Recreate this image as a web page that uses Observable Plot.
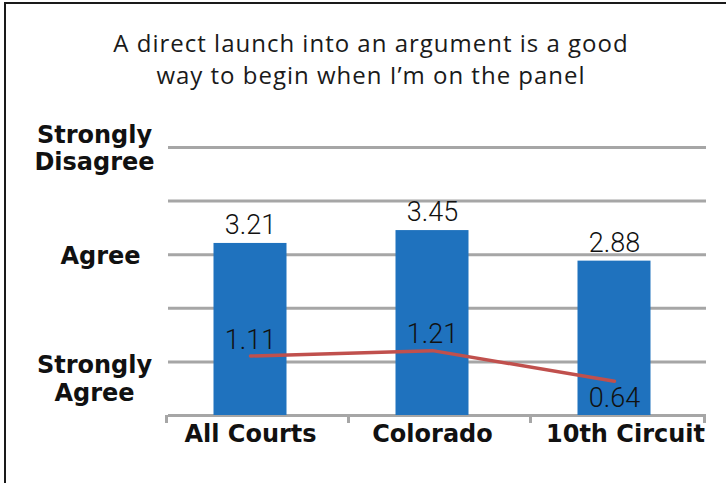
<!DOCTYPE html>
<html>
<head>
<meta charset="utf-8">
<script src="https://cdn.jsdelivr.net/npm/d3@7"></script>
<script src="https://cdn.jsdelivr.net/npm/@observablehq/plot@0.6"></script>
<style>
  html, body { margin: 0; padding: 0; background: #fff; }
  #wrap { position: relative; width: 726px; height: 483px; overflow: hidden; background: #fff; }
  #bt { position: absolute; left: 4px; top: 2px; width: 722px; height: 2px; background: #1a1a1a; }
  #bl { position: absolute; left: 4px; top: 2px; width: 2px; height: 481px; background: #1a1a1a; }
  #title { box-sizing: border-box; height: 100px; padding-top: 27px; margin-left: 16px; width: 710px;
           text-align: center; font-family: "Open Sans", Roboto, sans-serif; font-weight: 400;
           font-size: 24px; letter-spacing: 1px; line-height: 32px; color: #1a1a1a; }
  #chart svg { display: block; overflow: visible; }
</style>
</head>
<body>
<div id="wrap">
  <div id="bt"></div><div id="bl"></div>
  <div id="title">A direct launch into an argument is a good<br>way to begin when I’m on the panel</div>
  <div id="chart"></div>
</div>
<script>
const categories = ["All Courts", "Colorado", "10th Circuit"];
const barValues = [3.21, 3.45, 2.88];
const lineValues = [1.11, 1.21, 0.64];
const gridValues = [1, 2, 3, 4, 5];
const yTickValues = [1, 3, 5];
const yTickLabels = ["Strongly\nAgree", "Agree", "Strongly\nDisagree"];

const data = categories.map((c, i) => ({cat: c, bar: barValues[i], line: lineValues[i]}));
const yTicks = yTickValues.map((v, i) => ({v, label: yTickLabels[i]}));

const W = 726, H = 383, mL = 168, mR = 20, mT = 47, mB = 68;
const xRange = [158.5, 704.5];
const step = (xRange[1] - xRange[0]) / categories.length;
const gray = "#A6A6A6";
const boldFont = "DejaVu Sans";
const numFont = "Roboto";
const bold = {fontSize: 24, fontFamily: boldFont, fontWeight: "bold", fill: "#111"};
const num = {fontSize: 27, fontFamily: numFont, fontWeight: 300, fill: "#111"};
const tick = {x: d => d, y1: 0, y2: 0, insetBottom: -8, stroke: gray, strokeWidth: 3};

const chart = Plot.plot({
  width: W, height: H,
  marginTop: mT, marginBottom: mB, marginLeft: mL, marginRight: mR,
  x: {domain: categories, range: xRange, padding: 0, axis: null},
  y: {domain: [0, 5], axis: null},
  style: {background: "transparent", overflow: "visible"},
  marks: [
    Plot.ruleY(gridValues, {stroke: gray, strokeWidth: 3}),
    Plot.ruleY([0], {stroke: gray, strokeWidth: 3}),
    Plot.ruleX(categories, {...tick, dx: -step / 2 + 7}),
    Plot.ruleX(categories.slice(-1), {...tick, dx: step / 2 - 1}),
    Plot.barY(data, {x: "cat", y: "bar", fill: "#1F72BE", insetLeft: (step - 73) / 2, insetRight: (step - 73) / 2}),
    Plot.line(data, {x: "cat", y: "line", stroke: "#C0504D", strokeWidth: 3.5}),
    Plot.text(data, {x: "cat", y: "bar", text: d => d.bar.toFixed(2), dy: -18, ...num}),
    Plot.text(data, {filter: (d, i) => i < 2, x: "cat", y: "line", text: d => d.line.toFixed(2), dy: -16, ...num}),
    Plot.text(data, {filter: (d, i) => i >= 2, x: "cat", y: "line", text: d => d.line.toFixed(2), dy: 17, ...num}),
    Plot.text(categories, {filter: (d, i) => i < 2, x: d => d, frameAnchor: "bottom", dy: 26, text: d => d, ...bold}),
    Plot.text(categories, {filter: (d, i) => i >= 2, x: d => d, frameAnchor: "bottom", dy: 26, dx: 11, text: d => d, ...bold}),
    Plot.text(yTicks, {filter: d => d.v === 5, y: "v", text: "label", frameAnchor: "left", dx: -74,
      textAnchor: "middle", lineHeight: 1.15, ...bold}),
    Plot.text(yTicks, {filter: d => d.v === 3, y: "v", text: "label", frameAnchor: "left", dx: -68,
      textAnchor: "middle", lineHeight: 1.15, ...bold}),
    Plot.text(yTicks, {filter: d => d.v === 1, y: "v", text: "label", frameAnchor: "left", dx: -74, dy: 16,
      textAnchor: "middle", lineHeight: 1.15, ...bold})
  ]
});
document.getElementById("chart").appendChild(chart);
</script>
</body>
</html>
